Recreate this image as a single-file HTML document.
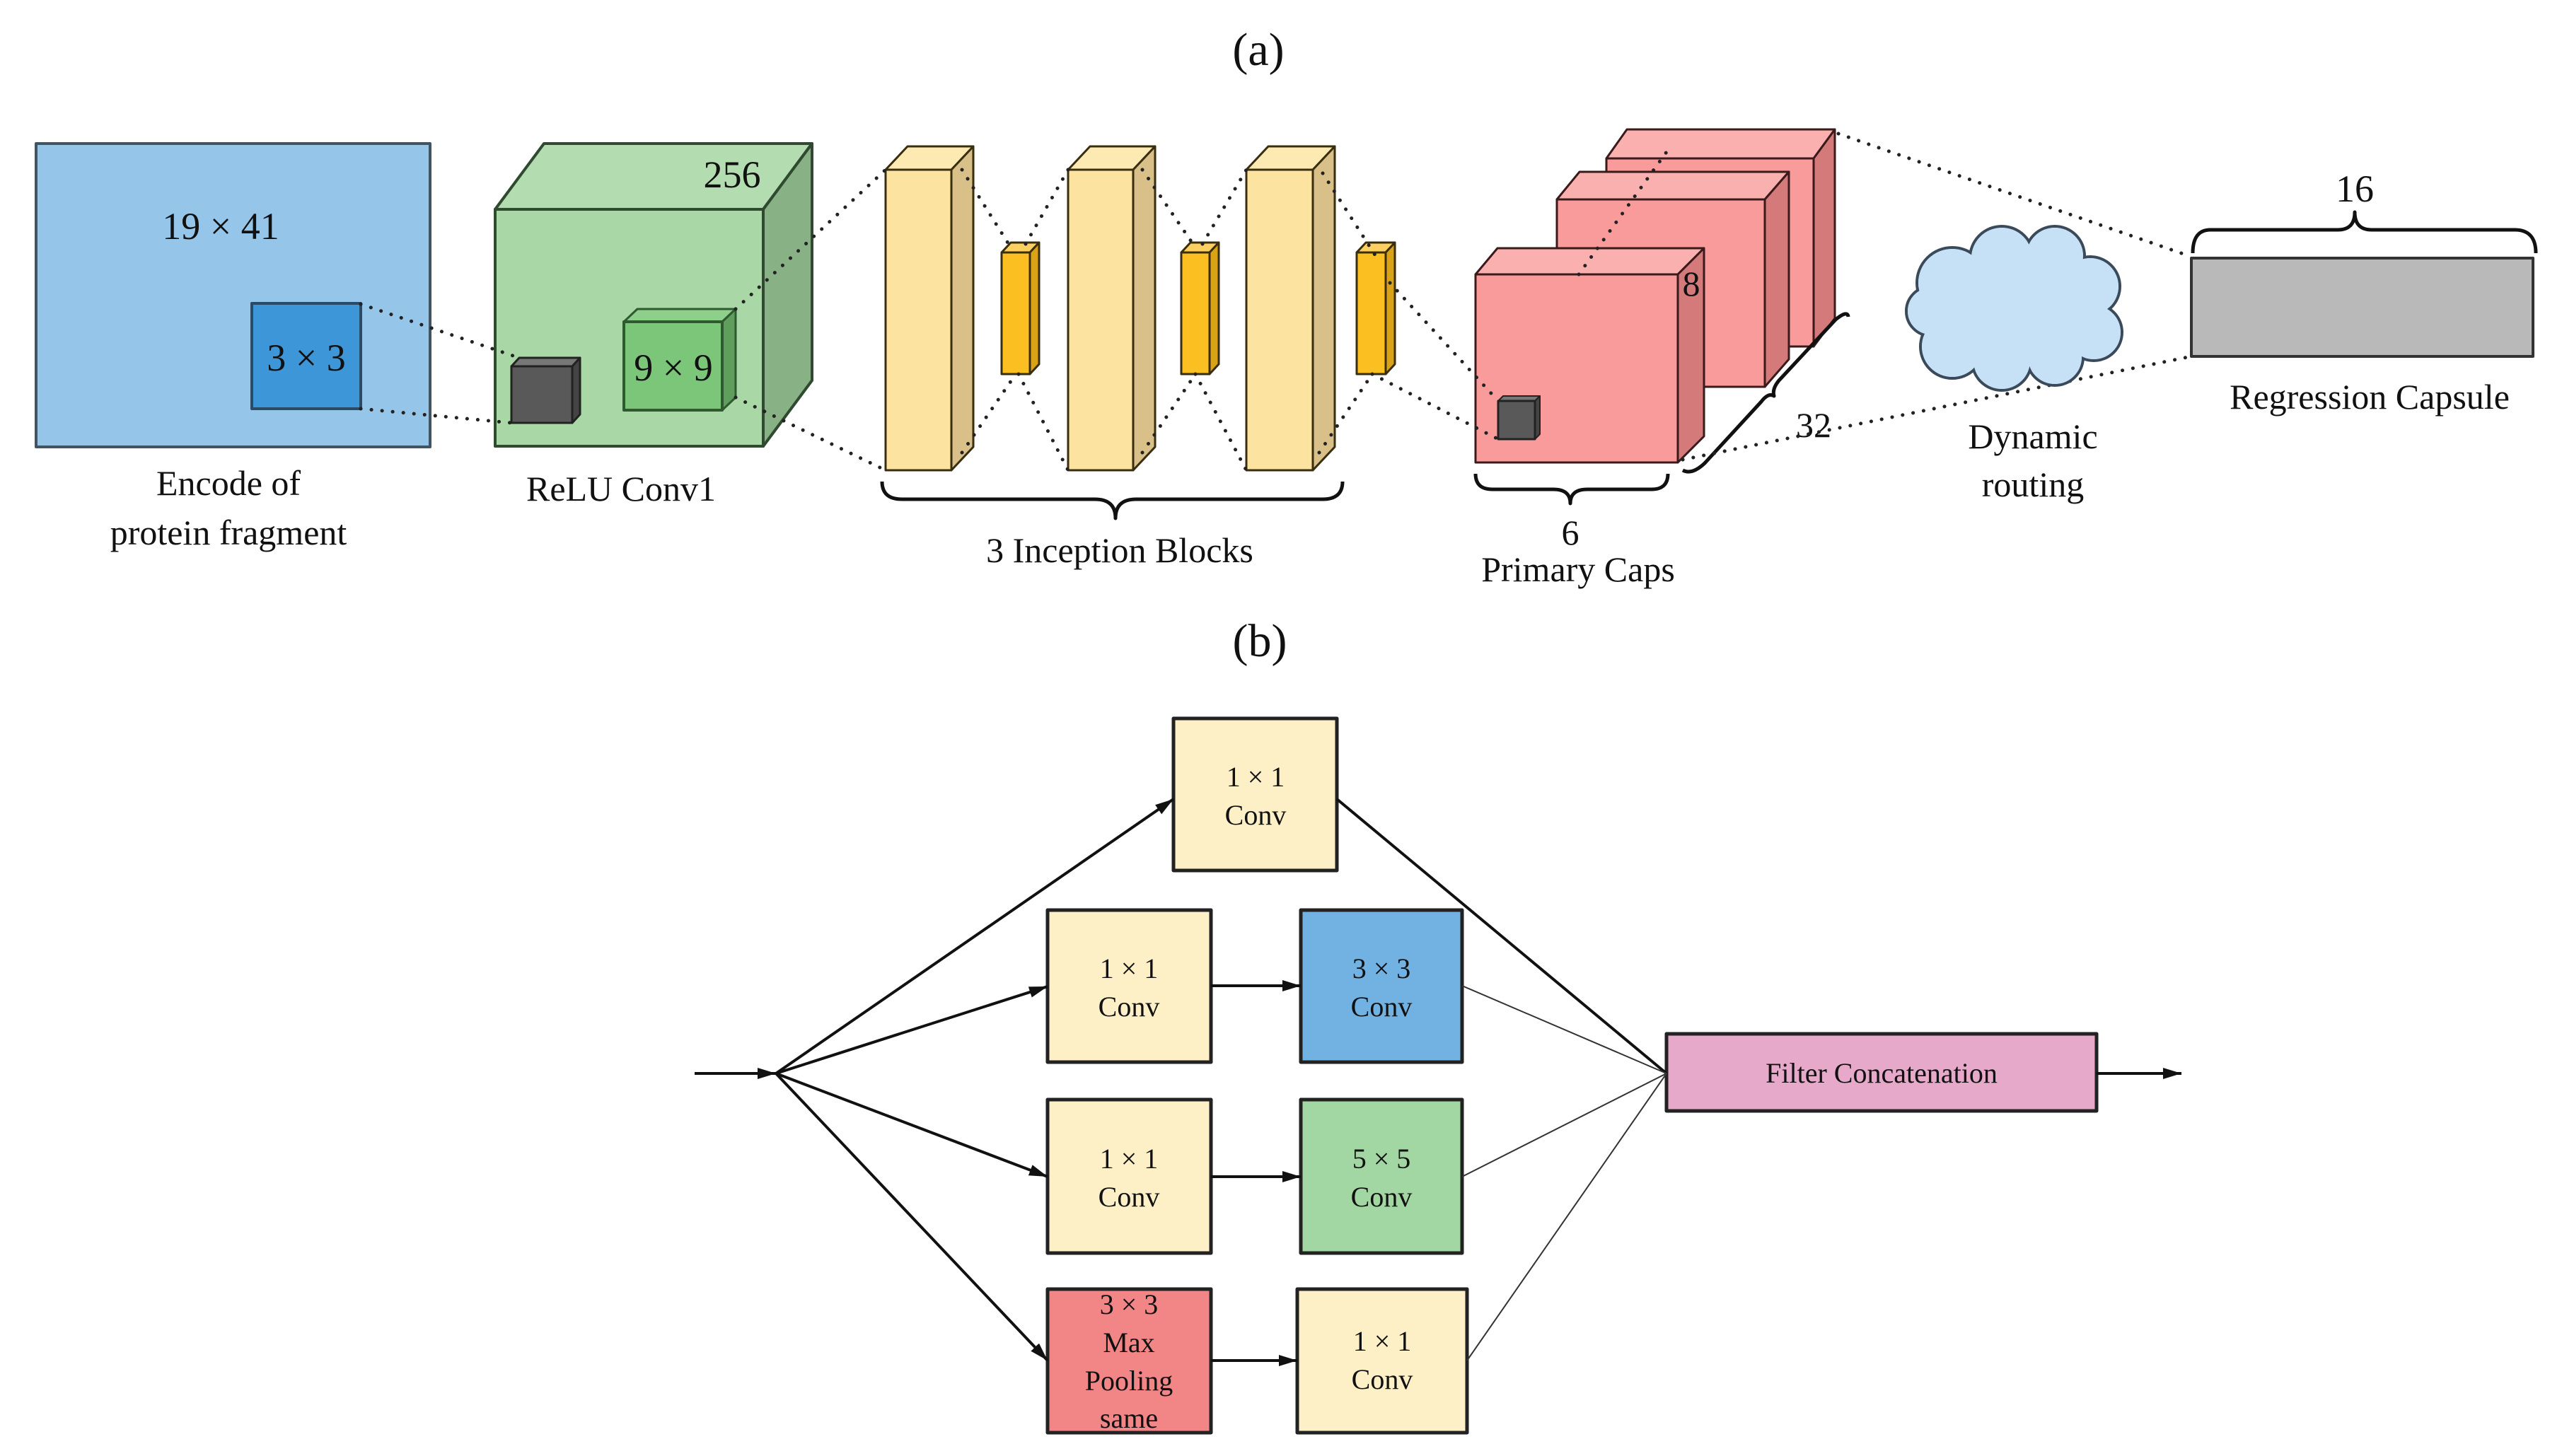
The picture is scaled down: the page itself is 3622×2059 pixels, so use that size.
<!DOCTYPE html>
<html><head><meta charset="utf-8"><style>
html,body{margin:0;padding:0;background:#fff;}
svg{display:block;}
svg text{font-family:"Liberation Serif","DejaVu Serif",serif;fill:#111;}
</style></head><body>
<svg width="3622" height="2059" viewBox="0 0 3622 2059" xmlns="http://www.w3.org/2000/svg" font-family="'Liberation Serif', 'DejaVu Serif', serif">
<defs>
<marker id="a" viewBox="0 0 10 10" refX="10" refY="5" markerWidth="26" markerHeight="20" markerUnits="userSpaceOnUse" orient="auto" preserveAspectRatio="none"><path d="M0,1 L10,5 L0,9 z" fill="#111"/></marker>
</defs>
<g stroke-linejoin="round" font-family="'Liberation Serif', 'DejaVu Serif', serif">
<text x="1779" y="92" font-size="66" text-anchor="middle">(a)</text>

<rect x="51" y="203" width="557" height="429" fill="#95c6ea" stroke="#3d5566" stroke-width="4"/>
<rect x="356" y="429" width="154" height="149" fill="#3d96d8" stroke="#2a4a66" stroke-width="4"/>
<text x="312" y="338" font-size="54" text-anchor="middle">19 × 41</text>
<text x="433" y="524" font-size="54" text-anchor="middle">3 × 3</text>
<text x="323" y="700" font-size="50" text-anchor="middle">Encode of</text>
<text x="323" y="770" font-size="50" text-anchor="middle">protein fragment</text>

<polygon points="700,296 769,203 1148,203 1079,296" fill="#b3dcb0" stroke="#2f4a2f" stroke-width="4"/>
<polygon points="1079,296 1148,203 1148,538 1079,631" fill="#88b286" stroke="#2f4a2f" stroke-width="4"/>
<rect x="700" y="296" width="379" height="335" fill="#a9d8a6" stroke="#2f4a2f" stroke-width="4"/>
<text x="1035" y="265" font-size="54" text-anchor="middle">256</text>
<polygon points="882,455 901,437 1040,437 1021,455" fill="#8fcf8c" stroke="#2f5a2f" stroke-width="3"/>
<polygon points="1021,455 1040,437 1040,562 1021,580" fill="#5f9e5c" stroke="#2f5a2f" stroke-width="3"/>
<rect x="882" y="455" width="139" height="125" fill="#7cc67a" stroke="#2f5a2f" stroke-width="4"/>
<text x="952" y="538" font-size="54" text-anchor="middle">9 × 9</text>
<polygon points="723,518 734,506 820,506 809,518" fill="#777" stroke="#222" stroke-width="3"/>
<polygon points="809,518 820,506 820,586 809,598" fill="#444" stroke="#222" stroke-width="3"/>
<rect x="723" y="518" width="86" height="80" fill="#595959" stroke="#222" stroke-width="3"/>
<text x="878" y="708" font-size="50" text-anchor="middle">ReLU Conv1</text>

<g stroke="#3a2e10" stroke-width="3">
<polygon points="1252,240 1283,207 1376,207 1345,240" fill="#fde9b2"/>
<polygon points="1345,240 1376,207 1376,632 1345,665" fill="#d8c088"/>
<rect x="1252" y="240" width="93" height="425" fill="#fde3a0"/>
<polygon points="1510,240 1541,207 1633,207 1602,240" fill="#fde9b2"/>
<polygon points="1602,240 1633,207 1633,632 1602,665" fill="#d8c088"/>
<rect x="1510" y="240" width="92" height="425" fill="#fde3a0"/>
<polygon points="1762,240 1793,207 1887,207 1856,240" fill="#fde9b2"/>
<polygon points="1856,240 1887,207 1887,632 1856,665" fill="#d8c088"/>
<rect x="1762" y="240" width="94" height="425" fill="#fde3a0"/>
<polygon points="1416,357 1429,343 1469,343 1456,357" fill="#fcd060"/>
<polygon points="1456,357 1469,343 1469,515 1456,529" fill="#d9a318"/>
<rect x="1416" y="357" width="40" height="172" fill="#fbbf22"/>
<polygon points="1670,357 1683,343 1723,343 1710,357" fill="#fcd060"/>
<polygon points="1710,357 1723,343 1723,515 1710,529" fill="#d9a318"/>
<rect x="1670" y="357" width="40" height="172" fill="#fbbf22"/>
<polygon points="1918,357 1931,343 1972,343 1959,357" fill="#fcd060"/>
<polygon points="1959,357 1972,343 1972,515 1959,529" fill="#d9a318"/>
<rect x="1918" y="357" width="41" height="172" fill="#fbbf22"/>
</g>
<path d="M1247,681 Q1247,706 1275,706 L1548,706 Q1577,706 1577,733 Q1577,706 1606,706 L1870,706 Q1898,706 1898,681" fill="none" stroke="#111" stroke-width="5"/>
<text x="1583" y="795" font-size="50" text-anchor="middle">3 Inception Blocks</text>

<g stroke="#3a1a1a" stroke-width="3">
<polygon points="2271,224 2300,183 2594,183 2564,224" fill="#fbb0b0"/>
<polygon points="2564,224 2594,183 2594,450 2564,490" fill="#d47a7a"/>
<rect x="2271" y="224" width="293" height="266" fill="#f99b9b"/>
<polygon points="2201,282 2233,243 2529,243 2495,282" fill="#fbb0b0"/>
<polygon points="2495,282 2529,243 2529,508 2495,547" fill="#d47a7a"/>
<rect x="2201" y="282" width="294" height="265" fill="#f99b9b"/>
<polygon points="2086,388 2117,351 2409,351 2372,388" fill="#fbb0b0"/>
<polygon points="2372,388 2409,351 2409,617 2372,654" fill="#d47a7a"/>
<rect x="2086" y="388" width="286" height="266" fill="#f99b9b"/>
</g>
<polygon points="2118,567 2125,560 2177,560 2170,567" fill="#777" stroke="#222" stroke-width="2"/>
<polygon points="2170,567 2177,560 2177,614 2170,621" fill="#444" stroke="#222" stroke-width="2"/>
<rect x="2118" y="567" width="52" height="54" fill="#595959" stroke="#222" stroke-width="3"/>
<text x="2391" y="418" font-size="50" text-anchor="middle">8</text>
<path d="M2086,670 Q2086,692 2110,692 L2196,692 Q2220,692 2220,712 Q2220,692 2244,692 L2335,692 Q2358,692 2358,670" fill="none" stroke="#111" stroke-width="5"/>
<text x="2220" y="770" font-size="50" text-anchor="middle">6</text>
<text x="2231" y="822" font-size="50" text-anchor="middle">Primary Caps</text>
<path d="M2379,665 Q2392,672 2410,655 L2490,568 Q2500,555 2508,560 Q2505,550 2515,538 L2595,452 Q2612,438 2613,448" fill="none" stroke="#111" stroke-width="5"/>
<text x="2564" y="618" font-size="50" text-anchor="middle">32</text>

<g stroke="#222" stroke-width="5" stroke-linecap="round" stroke-dasharray="0.1 15" fill="none">
<line x1="510" y1="430" x2="734" y2="506"/>
<line x1="510" y1="578" x2="723" y2="598"/>
<line x1="1040" y1="437" x2="1252" y2="240"/>
<line x1="1040" y1="562" x2="1252" y2="665"/>
<line x1="1360" y1="240" x2="1429" y2="350"/>
<line x1="1360" y1="640" x2="1436" y2="529"/>
<line x1="1450" y1="345" x2="1510" y2="240"/>
<line x1="1440" y1="529" x2="1510" y2="665"/>
<line x1="1615" y1="240" x2="1690" y2="350"/>
<line x1="1615" y1="640" x2="1690" y2="529"/>
<line x1="1700" y1="345" x2="1762" y2="240"/>
<line x1="1690" y1="529" x2="1762" y2="665"/>
<line x1="1870" y1="245" x2="1950" y2="370"/>
<line x1="1865" y1="640" x2="1940" y2="529"/>
<line x1="1965" y1="400" x2="2118" y2="567"/>
<line x1="1940" y1="529" x2="2118" y2="621"/>
<line x1="2232" y1="388" x2="2356" y2="215"/>
<line x1="2599" y1="189" x2="3098" y2="363"/>
<line x1="2379" y1="650" x2="3098" y2="504"/>
</g>

<g fill="#c6e0f5" stroke="#3a4a5a" stroke-width="4">
<circle cx="2760" cy="400" r="50"/><circle cx="2830" cy="365" r="45"/><circle cx="2905" cy="362" r="42"/>
<circle cx="2955" cy="405" r="42"/><circle cx="2960" cy="470" r="40"/><circle cx="2905" cy="505" r="40"/>
<circle cx="2830" cy="510" r="42"/><circle cx="2760" cy="490" r="45"/><circle cx="2730" cy="440" r="35"/>
</g>
<g fill="#c6e0f5">
<circle cx="2760" cy="400" r="48"/><circle cx="2830" cy="365" r="43"/><circle cx="2905" cy="362" r="40"/>
<circle cx="2955" cy="405" r="40"/><circle cx="2960" cy="470" r="38"/><circle cx="2905" cy="505" r="38"/>
<circle cx="2830" cy="510" r="40"/><circle cx="2760" cy="490" r="43"/><circle cx="2730" cy="440" r="33"/>
<ellipse cx="2845" cy="440" rx="110" ry="80"/>
</g>
<text x="2874" y="634" font-size="50" text-anchor="middle">Dynamic</text>
<text x="2874" y="702" font-size="50" text-anchor="middle">routing</text>

<rect x="3098" y="365" width="483" height="139" fill="#b9b9b9" stroke="#333" stroke-width="4"/>
<path d="M3100,358 Q3100,325 3125,325 L3305,325 Q3329,325 3329,300 Q3329,325 3353,325 L3555,325 Q3585,325 3585,358" fill="none" stroke="#111" stroke-width="5"/>
<text x="3329" y="285" font-size="54" text-anchor="middle">16</text>
<text x="3350" y="578" font-size="50" text-anchor="middle">Regression Capsule</text>

<text x="1781" y="928" font-size="66" text-anchor="middle">(b)</text>
<g stroke="#222" stroke-width="5">
<rect x="1659" y="1016" width="231" height="215" fill="#fdefc6"/>
<rect x="1481" y="1287" width="231" height="215" fill="#fdefc6"/>
<rect x="1839" y="1287" width="228" height="215" fill="#72b2e2"/>
<rect x="1481" y="1555" width="231" height="217" fill="#fdefc6"/>
<rect x="1839" y="1555" width="228" height="217" fill="#a2d6a2"/>
<rect x="1481" y="1823" width="231" height="203" fill="#f28686"/>
<rect x="1834" y="1823" width="240" height="203" fill="#fdefc6"/>
<rect x="2356" y="1462" width="608" height="109" fill="#e6a9c9"/>
</g>
<g font-size="40" text-anchor="middle">
<text x="1775" y="1112">1 × 1</text><text x="1775" y="1166">Conv</text>
<text x="1596" y="1383">1 × 1</text><text x="1596" y="1437">Conv</text>
<text x="1953" y="1383">3 × 3</text><text x="1953" y="1437">Conv</text>
<text x="1596" y="1652">1 × 1</text><text x="1596" y="1706">Conv</text>
<text x="1953" y="1652">5 × 5</text><text x="1953" y="1706">Conv</text>
<text x="1596" y="1858">3 × 3</text><text x="1596" y="1912">Max</text><text x="1596" y="1966">Pooling</text><text x="1596" y="2019">same</text>
<text x="1954" y="1910">1 × 1</text><text x="1954" y="1964">Conv</text>
<text x="2660" y="1531">Filter Concatenation</text>
</g>
<g stroke="#111" stroke-width="4" fill="none">
<line x1="982" y1="1518" x2="1097" y2="1518" marker-end="url(#a)"/>
<line x1="1097" y1="1518" x2="1659" y2="1130" marker-end="url(#a)"/>
<line x1="1097" y1="1518" x2="1481" y2="1395" marker-end="url(#a)"/>
<line x1="1097" y1="1518" x2="1481" y2="1664" marker-end="url(#a)"/>
<line x1="1097" y1="1518" x2="1481" y2="1924" marker-end="url(#a)"/>
<line x1="1712" y1="1394" x2="1839" y2="1394" marker-end="url(#a)"/>
<line x1="1712" y1="1664" x2="1839" y2="1664" marker-end="url(#a)"/>
<line x1="1712" y1="1924" x2="1834" y2="1924" marker-end="url(#a)"/>
<line x1="2964" y1="1518" x2="3084" y2="1518" marker-end="url(#a)"/>
<line x1="1890" y1="1130" x2="2356" y2="1518"/>
</g>
<g stroke="#333" stroke-width="2" fill="none">
<line x1="2067" y1="1394" x2="2356" y2="1518"/>
<line x1="2067" y1="1664" x2="2356" y2="1518"/>
<line x1="2074" y1="1924" x2="2356" y2="1518"/>
</g>
</g>
</svg>
</body></html>
